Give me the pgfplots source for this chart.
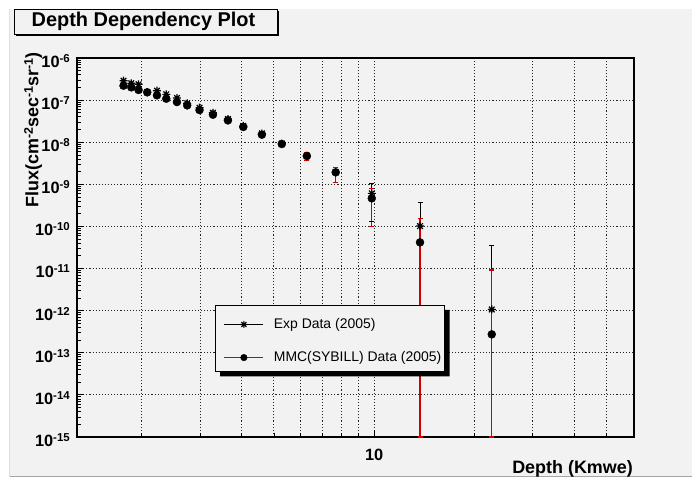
\documentclass[border=0pt]{standalone}
\usepackage{pgfplots}
\pgfplotsset{compat=1.18}
\usepackage{pgfplotstable}
\usepackage{fontspec}
\setmainfont{Liberation Sans}
\definecolor{bgc}{RGB}{242,242,242}
\definecolor{rootred}{RGB}{210,0,0}

\pgfdeclareplotmark{rootstar}{%
  \pgfpathmoveto{\pgfqpoint{-\pgfplotmarksize}{0pt}}\pgfpathlineto{\pgfqpoint{\pgfplotmarksize}{0pt}}%
  \pgfpathmoveto{\pgfqpoint{0pt}{-\pgfplotmarksize}}\pgfpathlineto{\pgfqpoint{0pt}{\pgfplotmarksize}}%
  \pgfpathmoveto{\pgfqpoint{-0.707\pgfplotmarksize}{-0.707\pgfplotmarksize}}\pgfpathlineto{\pgfqpoint{0.707\pgfplotmarksize}{0.707\pgfplotmarksize}}%
  \pgfpathmoveto{\pgfqpoint{-0.707\pgfplotmarksize}{0.707\pgfplotmarksize}}\pgfpathlineto{\pgfqpoint{0.707\pgfplotmarksize}{-0.707\pgfplotmarksize}}%
  \pgfusepathqstroke}

% Exp data (2005)
\pgfplotstableread{
x y
1.766 2.89e-7
1.864 2.51e-7
1.960 2.37e-7
2.081 1.55e-7
2.226 1.67e-7
2.374 1.37e-7
2.556 1.12e-7
2.744 8.4e-8
2.988 6.6e-8
3.279 5.0e-8
3.637 3.56e-8
4.044 2.43e-8
4.60 1.63e-8
5.28 9.3e-9
6.28 4.8e-9
7.67 1.95e-9
9.84 6.1e-10
13.74 1.02e-10
22.57 1.07e-12
}\expdata

% MMC(SYBILL) data (2005)
\pgfplotstableread{
x y
1.766 2.2e-7
1.864 2.01e-7
1.960 1.74e-7
2.081 1.53e-7
2.226 1.30e-7
2.374 1.08e-7
2.556 9.0e-8
2.744 7.5e-8
2.988 5.8e-8
3.279 4.5e-8
3.637 3.3e-8
4.044 2.3e-8
4.60 1.51e-8
5.28 9.06e-9
6.28 4.7e-9
7.67 1.93e-9
9.84 4.65e-10
13.74 4.19e-11
22.57 2.74e-13
}\mmcdata

\begin{document}
\begin{tikzpicture}
\fill[white] (0,0) rectangle (692bp,480bp);
\path[use as bounding box] (0,0) rectangle (692bp,480bp);
\fill[bgc] (9bp,3bp) rectangle (692bp,471bp);
\draw[black!35, line width=1bp] (9bp,3bp) -- (692bp,3bp);
\draw[black!12, line width=0.6bp] (9bp,3bp) -- (9bp,471bp);

\begin{axis}[
  at={(77bp,43bp)}, anchor=south west,
  scale only axis, width=557bp, height=379bp,
  xmode=log, ymode=log,
  xmin=1.28, xmax=60.4, ymin=1e-15, ymax=1e-6,
  tick pos=left,
  xtick={10}, xticklabels={\bfseries 10},
  minor xtick={2,3,4,5,6,7,8,9,20,30,40,50,60},
  ytick={1e-15,1e-14,1e-13,1e-12,1e-11,1e-10,1e-9,1e-8,1e-7,1e-6},
  yticklabels={
    {\bfseries 10\raisebox{5bp}{\fontsize{11.5}{12}\selectfont -15}},
    {\bfseries 10\raisebox{5bp}{\fontsize{11.5}{12}\selectfont -14}},
    {\bfseries 10\raisebox{5bp}{\fontsize{11.5}{12}\selectfont -13}},
    {\bfseries 10\raisebox{5bp}{\fontsize{11.5}{12}\selectfont -12}},
    {\bfseries 10\raisebox{5bp}{\fontsize{11.5}{12}\selectfont -11}},
    {\bfseries 10\raisebox{5bp}{\fontsize{11.5}{12}\selectfont -10}},
    {\bfseries 10\raisebox{5bp}{\fontsize{11.5}{12}\selectfont -9}},
    {\bfseries 10\raisebox{5bp}{\fontsize{11.5}{12}\selectfont -8}},
    {\bfseries 10\raisebox{5bp}{\fontsize{11.5}{12}\selectfont -7}},
    {\bfseries 10\raisebox{5bp}{\fontsize{11.5}{12}\selectfont -6}}},
  minor ytick={2e-15,3e-15,4e-15,5e-15,6e-15,7e-15,8e-15,9e-15,
               2e-14,3e-14,4e-14,5e-14,6e-14,7e-14,8e-14,9e-14,
               2e-13,3e-13,4e-13,5e-13,6e-13,7e-13,8e-13,9e-13,
               2e-12,3e-12,4e-12,5e-12,6e-12,7e-12,8e-12,9e-12,
               2e-11,3e-11,4e-11,5e-11,6e-11,7e-11,8e-11,9e-11,
               2e-10,3e-10,4e-10,5e-10,6e-10,7e-10,8e-10,9e-10,
               2e-9,3e-9,4e-9,5e-9,6e-9,7e-9,8e-9,9e-9,
               2e-8,3e-8,4e-8,5e-8,6e-8,7e-8,8e-8,9e-8,
               2e-7,3e-7,4e-7,5e-7,6e-7,7e-7,8e-7,9e-7},
  xticklabel style={font=\fontsize{16.4}{18}\selectfont, inner sep=0pt, anchor=north, yshift=-12bp},
  yticklabel style={font=\fontsize{16.4}{18}\selectfont, inner sep=0pt, anchor=east, xshift=-7bp, yshift=-3bp},
  major tick length=7bp, minor tick length=4.5bp,
  every tick/.style={black, line width=0.8bp},
  axis line style={line width=1.2bp},
  xmajorgrids, xminorgrids, ymajorgrids,
  major grid style={black!85, dash pattern=on 1.1bp off 2bp, line width=1bp},
  minor grid style={black!85, dash pattern=on 1.1bp off 2bp, line width=1bp},
  legend style={at={(axis description cs:0.249,0.3483)}, anchor=north west,
    fill=none, draw=none,
    font=\fontsize{14}{16}\selectfont,
    inner xsep=8bp, inner ysep=11.5bp, row sep=17.5bp,
    /tikz/every odd column/.append style={column sep=8bp}},
  legend cell align=left,
]
% Exp error bars (upper, lower)
\addplot[forget plot, black, line width=1bp, mark=-, mark size=2.5bp] coordinates {(9.84,1.06e-9) (9.84,1.29e-10)};
\addplot[forget plot, black, line width=1bp, mark=-, mark size=2.5bp] coordinates {(13.74,3.66e-10) (13.74,1.02e-10)};
\addplot[forget plot, black, line width=1bp, mark=-, mark size=2.5bp] coordinates {(22.57,3.56e-11) (22.57,1.07e-12)};
% Exp markers
\addplot[only marks, mark=rootstar, mark size=4bp, black,
  mark options={line width=1.2bp},
  legend image code/.code={
    \draw[black, line width=0.8bp] (0bp,0bp) -- (39bp,0bp);
    \draw[black, line width=1.1bp] plot[mark=rootstar, mark size=3.5bp] coordinates {(19.5bp,0bp)};}]
  table[x=x, y=y] {\expdata};
\addlegendentry{Exp Data (2005)}
% MMC error bars (upper, lower)
\addplot[forget plot, rootred, line width=1.2bp, mark=-, mark size=2.5bp] coordinates {(5.28,1.0e-8) (5.28,8.2e-9)};
\addplot[forget plot, rootred, line width=1.2bp, mark=-, mark size=2.5bp] coordinates {(6.28,5.75e-9) (6.28,3.64e-9)};
\addplot[forget plot, rootred, line width=1.2bp, mark=-, mark size=2.5bp] coordinates {(7.67,2.54e-9) (7.67,1.12e-9)};
\addplot[forget plot, rootred, line width=1.2bp, mark=-, mark size=2.5bp] coordinates {(9.84,7.86e-10) (9.84,9.84e-11)};
\addplot[forget plot, rootred, line width=1.2bp, mark=-, mark size=2.5bp] coordinates {(13.74,1.52e-10) (13.74,1e-15)};
\addplot[forget plot, rootred, line width=1.2bp, mark=-, mark size=2.5bp] coordinates {(22.57,9.2e-12) (22.57,1e-15)};
% MMC markers
\addplot[only marks, mark=*, mark size=4bp, black,
  legend image code/.code={
    \draw[rootred, line width=1bp] (0bp,0bp) -- (39bp,0bp);
    \fill[black] (19.5bp,0bp) circle (3.3bp);}]
  table[x=x, y=y] {\mmcdata};
\addlegendentry{MMC(SYBILL) Data (2005)}
% legend box
\filldraw[fill=bgc, draw=black, line width=0.8bp] (axis description cs:0.249,0.1741) rectangle (axis description cs:0.6589,0.3483);
\end{axis}

% legend shadow (L-shape outside the box)
\fill[black] (220bp,103.5bp) -- (449.5bp,103.5bp) -- (449.5bp,170bp) -- (444.5bp,170bp) -- (444.5bp,108.6bp) -- (220bp,108.6bp) -- cycle;

% title box
\fill[black] (16bp,444bp) rectangle (279bp,469bp);
\filldraw[fill=bgc, draw=black, line width=0.8bp] (14bp,446bp) rectangle (277bp,471bp);
\node[font=\fontsize{20}{22}\selectfont\bfseries, inner sep=0pt] at (143.5bp,458.5bp) {Depth Dependency Plot};

% axis titles
\node[font=\fontsize{18}{20}\selectfont\bfseries, inner sep=0pt, anchor=base east] at (633bp,6.7bp) {Depth (Kmwe)};
\node[font=\fontsize{18}{20}\selectfont\bfseries, inner sep=0pt, anchor=base east, rotate=90] at (38.3bp,428bp)
  {Flux(cm\raisebox{5.5bp}{\fontsize{12.5}{13}\selectfont -2}sec\raisebox{5.5bp}{\fontsize{12.5}{13}\selectfont -1}sr\raisebox{5.5bp}{\fontsize{12.5}{13}\selectfont -1})};
\end{tikzpicture}
\end{document}
